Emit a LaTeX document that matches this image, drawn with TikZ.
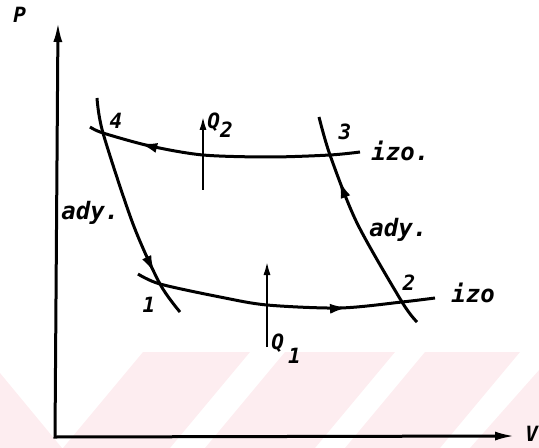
\documentclass[tikz,border=0pt]{standalone}
\usepackage{fontspec}
\newfontfamily\plotfont{DejaVu Sans Mono}
\usetikzlibrary{arrows.meta,decorations.markings}
\definecolor{wmpink}{RGB}{253,237,240}

\begin{document}
\begin{tikzpicture}[x=0.5pt,y=-0.5pt,
    curve/.style={line width=1.5pt},
    axis/.style={line width=1.5pt},
    heat/.style={line width=1.3pt,-{Latex[length=7.5pt,width=3.5pt]}},
    word/.style={font=\plotfont\bfseries\itshape\fontsize{12}{14}\selectfont,inner sep=0pt},
    num/.style={font=\plotfont\bfseries\itshape\fontsize{10.5}{12}\selectfont,inner sep=0pt},
    fwd/.style={postaction={decorate},decoration={markings,mark=at position #1 with {\arrow{Latex[length=9pt,width=5pt]}}}},
    bwd/.style={postaction={decorate},decoration={markings,mark=at position #1 with {\arrowreversed{Latex[length=9pt,width=5pt]}}}}]
    \useasboundingbox (0,0) rectangle (539,448);

    % watermark stripes
    \fill[wmpink] (0,373) -- (62,448) -- (0,448) -- cycle;
    \fill[wmpink] (143,352) -- (250,352) -- (170,448) -- (63,448) -- cycle;
    \fill[wmpink] (285,352) -- (395,352) -- (315,448) -- (205,448) -- cycle;
    \fill[wmpink] (425,352) -- (520,352) -- (440,448) -- (345,448) -- cycle;
    \fill[wmpink] (555,352) -- (600,352) -- (600,448) -- (470,448) -- cycle;

    % axes
    \coordinate (o) at (55,437);
    \coordinate (ptip) at (58,22);
    \coordinate (vtip) at (515,436);
    \draw[axis,{Latex[length=10pt,width=4.5pt]}-{Latex[length=10pt,width=4.5pt]}] (ptip) -- (o) -- (vtip);
    \node[num,anchor=base west] (lp) at (13,23) {P};
    \node[num,anchor=base west] (lv) at (525,441) {V};

    % states
    \coordinate (s1) at (160,284);
    \coordinate (s2) at (402,302);
    \coordinate (s3) at (330,155);
    \coordinate (s4) at (103,133);

    % isotherms
    \draw[curve,bwd=0.19] plot[smooth] coordinates {(90,127) (s4) (150,146) (203,155) (270,157) (s3) (360,152)};
    \draw[curve,fwd=0.71] plot[smooth] coordinates {(138,274) (s1) (220,297) (267,305) (340,308) (s2) (435,298)};

    % adiabats
    \draw[curve,fwd=0.8] plot[smooth] coordinates {(97,98) (s4) (133,224) (s1) (180,312)};
    \draw[curve,fwd=0.71] plot[smooth] coordinates {(417,322) (s2) (357,223) (s3) (319,117)};

    % heat
    \coordinate (q2a) at (203,190);
    \coordinate (q2b) at (203,115);
    \draw[heat] (q2a) -- (q2b);
    \coordinate (q1a) at (267,347);
    \coordinate (q1b) at (267,260);
    \draw[heat] (q1a) -- (q1b);
    \node[num,anchor=base west] (q2) at (207,129) {Q\raisebox{-4.5pt}{2}};
    \node[num,anchor=base west] (q1) at (271,349) {Q\raisebox{-7pt}{\hspace{2pt}1}};

    % labels
    \node[num] (n1) at (149,305) {1};
    \node[num] (n2) at (409,283) {2};
    \node[num] (n3) at (345,132) {3};
    \node[num] (n4) at (116,121) {4};
    \node[word,anchor=base west] (iz1) at (371,161) {izo.};
    \node[word,anchor=base west] (iz2) at (451,302) {izo};
    \node[word,anchor=base west] (ad1) at (61,220) {ady.};
    \node[word,anchor=base west] (ad2) at (369,236) {ady.};
\end{tikzpicture}
\end{document}
